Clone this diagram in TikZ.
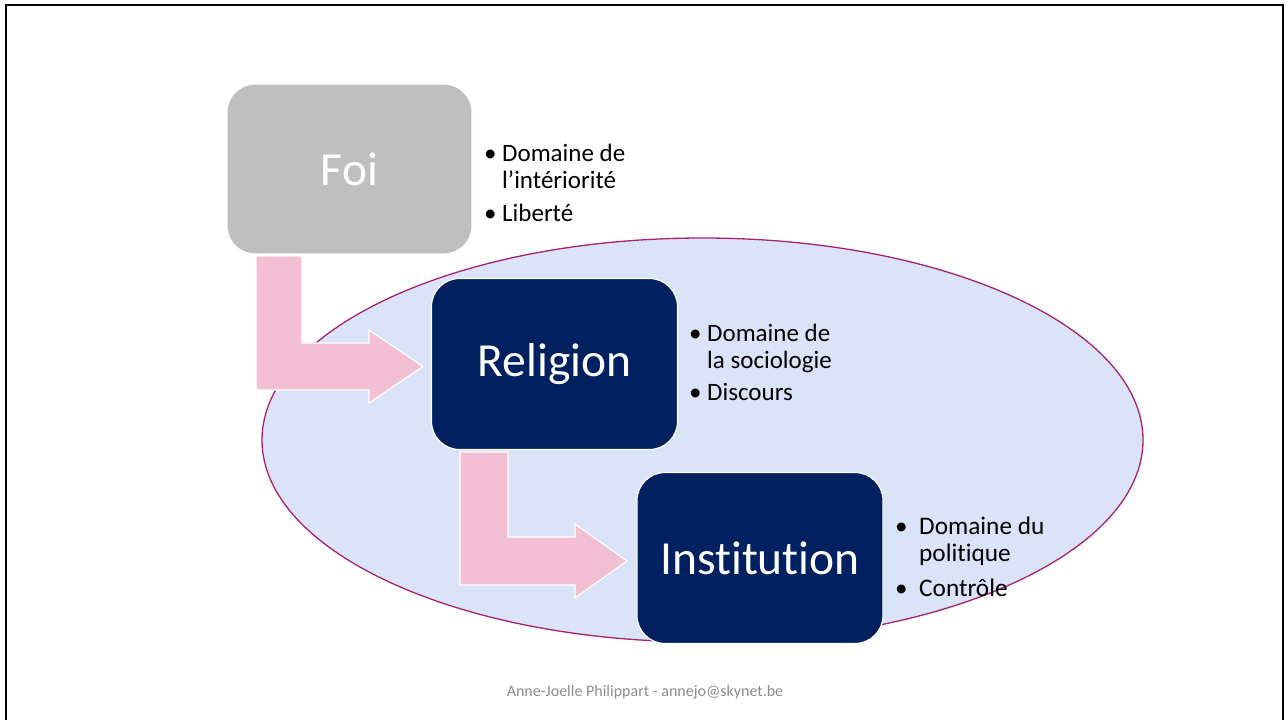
\documentclass[tikz,border=0pt]{standalone}
\usepackage{fontspec}
\setmainfont{Carlito}[Ligatures={NoCommon}]
\usepackage{tikz}

\definecolor{foigray}{HTML}{BFBFBF}
\definecolor{navy}{HTML}{002060}
\definecolor{arrowpink}{HTML}{F2C0D2}
\definecolor{ovalfill}{HTML}{DAE3F8}
\definecolor{ovalline}{HTML}{A6236F}
\definecolor{footgray}{HTML}{8C8C8C}

\tikzset{
  box/.style={rounded corners=28pt,draw=white,line width=1.2pt,minimum width=246pt,minimum height=171pt,text=white,font=\fontsize{47.5}{50}\selectfont,inner sep=0pt},
  bent/.style={fill=arrowpink,draw=white,line width=1.2pt,line join=miter},
  bullet/.style={anchor=base west,inner sep=0pt,font=\fontsize{25}{26.5}\selectfont},
  item/.style={anchor=base west,inner sep=0pt,align=left,font=\fontsize{25}{26.5}\selectfont}
}

\begin{document}
\begin{tikzpicture}[x=1pt,y=-1pt]
        \useasboundingbox (0,0) rectangle (1286,720);
        \fill[white] (0,0) rectangle (1286,720);
        \draw[line width=2pt] (6,720) -- (6,5) -- (1283,5) -- (1283,720);
        % oval behind the two lower boxes
        \filldraw[fill=ovalfill,draw=ovalline,line width=1.3pt] (702.5,440) ellipse [x radius=440.5pt,y radius=202pt];
        % bent arrows
        \draw[bent] (256,256) -- (302,256) -- (302,343) -- (369,343) -- (369,330) -- (423,366.5) -- (369,403) -- (369,390) -- (256,390) -- cycle;
        \draw[bent] (460,452) -- (508,452) -- (508,537) -- (575,537) -- (575,524) -- (627,561) -- (575,598) -- (575,585) -- (460,585) -- cycle;
        % boxes
        \node[box,fill=foigray,minimum width=245pt,minimum height=170pt] (foi) at (349.5,169) {Foi};
        \node[box,fill=navy] (religion) at (554.5,364) {Religion};
        \node[box,fill=navy] (institution) at (760,558) {Institution};
        % bullet texts (two-line items sit on their last baseline)
        \node[bullet] (b1) at (484,161.7) {\textbullet};
        \node[item] (t1) at (502,188.2) {Domaine de\\l’intériorité};
        \node[bullet] (b2) at (484,221.7) {\textbullet};
        \node[item] (t2) at (502,221.7) {Liberté};
        \node[bullet] (b3) at (689,341.7) {\textbullet};
        \node[item] (t3) at (707,368.2) {Domaine de\\la sociologie};
        \node[bullet] (b4) at (689,400) {\textbullet};
        \node[item] (t4) at (707,400) {Discours};
        \node[bullet] (b5) at (895,534) {\textbullet};
        \node[item,font=\fontsize{25.3}{27.7}\selectfont] (t5) at (919,561.7) {Domaine du\\politique};
        \node[bullet] (b6) at (895,596.7) {\textbullet};
        \node[item,font=\fontsize{25.3}{27.7}\selectfont] (t6) at (919,596.7) {Contrôle};
        % footer
        \node[anchor=base,inner sep=0pt,text=footgray,font=\fontsize{16}{19}\selectfont] (foot) at (645,696.7) {Anne-Joelle Philippart - annejo@skynet.be};
\end{tikzpicture}
\end{document}
